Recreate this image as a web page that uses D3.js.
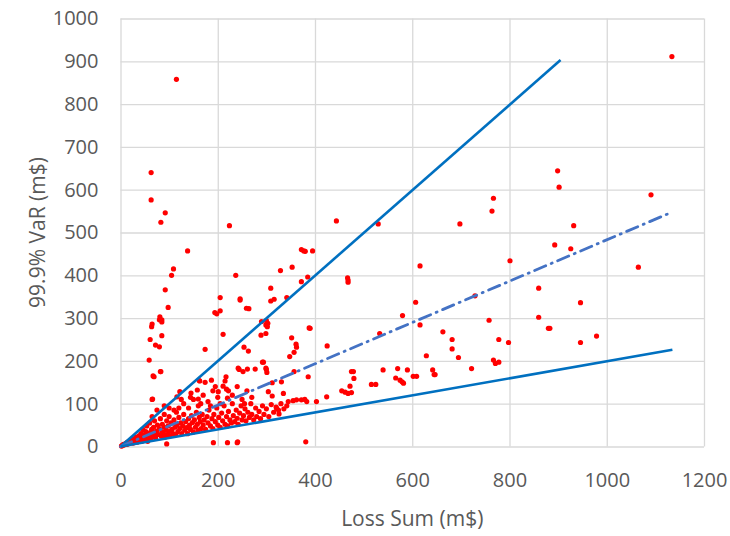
<!DOCTYPE html>
<html>
<head>
<meta charset="utf-8">
<script src="https://cdn.jsdelivr.net/npm/d3@7"></script>
<style>
  body { margin: 0; background: #fff; }
  text { font-family: "Open Sans", "Noto Sans", sans-serif; fill: #595959; }
</style>
</head>
<body>
<svg id="chart" width="730" height="536"></svg>
<script>
// axis ticks
const xTicks = [0, 200, 400, 600, 800, 1000, 1200];
const yTicks = [0, 100, 200, 300, 400, 500, 600, 700, 800, 900, 1000];

// reference lines: [x, y] start and end
const upperLine = [[0, 0], [905, 903]];
const midLine = [[0, 0], [1135, 548]];
const lowerLine = [[0, 0], [1135, 226]];

// scattered points, [loss sum, 99.9% VaR]
const sparsePoints = [
  [115, 858], [63, 640], [63, 576], [92, 546], [83, 524], [224, 516], [138, 457], [109, 415],
  [105, 400], [237, 400], [92, 366], [205, 348], [246, 345], [98, 325], [194, 313], [198, 310],
  [205, 317], [81, 303], [85, 296], [80, 296], [85, 291], [65, 286], [444, 527], [372, 460],
  [377, 457], [380, 456], [395, 457], [353, 419], [329, 411], [385, 396], [372, 385], [467, 394],
  [468, 389], [468, 384], [309, 370], [309, 340], [316, 344], [342, 348], [264, 322], [290, 292],
  [303, 288], [530, 520], [698, 520], [767, 580], [764, 550], [899, 644], [902, 606], [616, 422],
  [801, 434], [893, 471], [860, 370], [607, 337], [729, 352], [1134, 911], [1091, 588], [932, 516],
  [926, 462], [1065, 419], [946, 336], [883, 276], [946, 243], [979, 258], [580, 306], [616, 284],
  [533, 264], [758, 295], [860, 302], [880, 276], [663, 268], [682, 250], [682, 228], [778, 250],
  [798, 243], [629, 212], [695, 208], [767, 202], [771, 194], [778, 197], [722, 182], [540, 179],
  [570, 182], [590, 179], [566, 160], [575, 155], [579, 151], [582, 148], [602, 164], [609, 164],
  [642, 179], [645, 168], [647, 168], [516, 145], [525, 145], [475, 175], [479, 175], [480, 159],
  [472, 141], [475, 126], [388, 277], [300, 294], [299, 264], [289, 260], [352, 254], [361, 239],
  [362, 232], [357, 220], [348, 210], [425, 235], [254, 232], [263, 223], [294, 197], [244, 180],
  [252, 175], [261, 181], [277, 181], [299, 183], [301, 173], [357, 175], [386, 163], [455, 130],
  [462, 127], [468, 124], [424, 116], [403, 105], [312, 149], [331, 151], [312, 118], [335, 124],
  [304, 128], [345, 105], [355, 107], [362, 109], [372, 109], [379, 110], [383, 105], [342, 95],
  [321, 89], [325, 85], [241, 11], [381, 11], [191, 9], [220, 9], [240, 9], [95, 6],
  [64, 280], [61, 250], [72, 237], [80, 233], [59, 202], [82, 175], [69, 163], [174, 227],
  [211, 262], [246, 342], [259, 323], [299, 284], [302, 280], [292, 197], [390, 276], [300, 180],
  [65, 110], [122, 128], [116, 116], [144, 115], [163, 153], [174, 150], [187, 155], [217, 163],
  [215, 153], [158, 132], [201, 128], [222, 130], [85, 259], [67, 165], [83, 175], [66, 111],
  [160, 111], [162, 154], [218, 134], [211, 141], [220, 113], [242, 183]
];

// dense cluster near the origin
const densePoints = [
  [2, 1], [3, 2], [5, 3], [6, 5], [8, 4], [10, 6], [12, 8], [14, 5], [15, 10], [18, 7],
  [20, 12], [22, 9], [25, 15], [26, 8], [28, 18], [30, 12], [32, 22], [34, 10], [35, 16], [38, 25],
  [40, 14], [40, 20], [42, 30], [44, 12], [45, 18], [46, 40], [48, 22], [50, 15], [50, 28], [52, 35],
  [54, 48], [55, 20], [56, 12], [58, 26], [60, 55], [60, 32], [62, 18], [64, 40], [65, 70], [66, 25],
  [68, 45], [70, 30], [70, 60], [72, 20], [74, 36], [75, 85], [76, 50], [78, 28], [80, 42], [82, 65],
  [84, 24], [85, 35], [86, 52], [88, 30], [90, 75], [90, 45], [92, 22], [94, 38], [95, 60], [96, 28],
  [98, 48], [100, 35], [100, 70], [102, 25], [104, 55], [106, 40], [108, 30], [110, 62], [112, 45], [114, 28],
  [115, 80], [116, 50], [118, 35], [120, 68], [122, 42], [124, 55], [126, 30], [128, 48], [130, 75], [132, 38],
  [134, 58], [136, 44], [138, 30], [140, 65], [142, 50], [144, 40], [146, 72], [148, 56], [150, 34], [152, 62],
  [154, 45], [156, 80], [158, 52], [160, 38], [162, 68], [164, 58], [166, 42], [168, 75], [170, 50], [172, 62],
  [175, 40], [178, 70], [180, 55], [182, 85], [185, 48], [188, 65], [190, 42], [192, 75], [195, 58], [198, 90],
  [200, 50], [202, 68], [205, 45], [208, 78], [210, 60], [213, 95], [215, 52], [218, 70], [220, 48], [222, 82],
  [225, 62], [228, 55], [230, 100], [232, 72], [235, 58], [238, 85], [240, 66], [242, 52], [245, 78], [248, 95],
  [250, 62], [253, 72], [256, 88], [258, 60], [262, 80], [265, 68], [268, 100], [270, 75], [274, 62], [278, 90],
  [280, 70], [285, 82], [288, 65], [292, 95], [295, 75], [300, 88], [305, 70], [310, 98], [315, 80], [320, 92],
  [326, 76], [330, 100], [336, 88], [130, 100], [150, 110], [170, 120], [180, 105], [190, 130], [140, 90],
  [160, 95], [200, 115], [230, 120], [250, 110], [120, 90], [110, 85], [100, 90], [90, 95], [260, 130],
  [270, 115], [240, 140], [205, 100], [185, 95], [165, 100], [125, 110], [145, 125], [195, 140], [255, 100]
];

const svg = d3.select("#chart");
const margin = { top: 18.5, right: 26, bottom: 89.5, left: 120.5 };
const width = 730, height = 536;

const x = d3.scaleLinear().domain([0, 1200]).range([margin.left, width - margin.right]);
const y = d3.scaleLinear().domain([0, 1000]).range([height - margin.bottom, margin.top]);

// gridlines
svg.append("g")
  .attr("transform", `translate(0,${y(0)})`)
  .call(d3.axisBottom(x).tickValues(xTicks).tickSize(-(y(0) - y(1000))).tickFormat(""))
  .call(g => g.select(".domain").remove())
  .selectAll("line").attr("stroke", "#d9d9d9").attr("stroke-width", 1.3);

svg.append("g")
  .attr("transform", `translate(${x(0)},0)`)
  .call(d3.axisLeft(y).tickValues(yTicks).tickSize(-(x(1200) - x(0))).tickFormat(""))
  .call(g => g.select(".domain").remove())
  .selectAll("line").attr("stroke", "#d9d9d9").attr("stroke-width", 1.3);

// tick labels
svg.append("g")
  .attr("transform", `translate(0,${y(0)})`)
  .call(d3.axisBottom(x).tickValues(xTicks).tickFormat(d3.format("d")).tickSize(0).tickPadding(26))
  .call(g => g.select(".domain").remove())
  .selectAll("text").style("font-size", "20px").attr("fill", "#595959");

svg.append("g")
  .attr("transform", `translate(${x(0)},0)`)
  .call(d3.axisLeft(y).tickValues(yTicks).tickFormat(d3.format("d")).tickSize(0).tickPadding(22))
  .call(g => g.select(".domain").remove())
  .selectAll("text").style("font-size", "20px").attr("fill", "#595959");

// points
const allPoints = sparsePoints.concat(densePoints);
svg.append("g")
  .selectAll("circle")
  .data(allPoints)
  .join("circle")
  .attr("cx", d => x(d[0]))
  .attr("cy", d => y(d[1]))
  .attr("r", 2.6)
  .attr("fill", "#ff0000");

// reference lines
const line = d3.line().x(d => x(d[0])).y(d => y(d[1]));

svg.append("path")
  .datum(upperLine)
  .attr("d", line)
  .attr("fill", "none")
  .attr("stroke", "#0070c0")
  .attr("stroke-width", 2.6);

svg.append("path")
  .datum(midLine)
  .attr("d", line)
  .attr("fill", "none")
  .attr("stroke", "#4472c4")
  .attr("stroke-width", 2.8)
  .attr("stroke-linecap", "round")
  .attr("stroke-dasharray", "12,6,1,6");

svg.append("path")
  .datum(lowerLine)
  .attr("d", line)
  .attr("fill", "none")
  .attr("stroke", "#0070c0")
  .attr("stroke-width", 2.6);

// axis titles
svg.append("text")
  .attr("x", (x(0) + x(1200)) / 2)
  .attr("y", 526)
  .attr("text-anchor", "middle")
  .style("font-size", "21px")
  .text("Loss Sum (m$)");

svg.append("text")
  .attr("transform", `translate(45,${(y(0) + y(1000)) / 2}) rotate(-90)`)
  .attr("text-anchor", "middle")
  .style("font-size", "21px")
  .text("99.9% VaR (m$)");
</script>
</body>
</html>
